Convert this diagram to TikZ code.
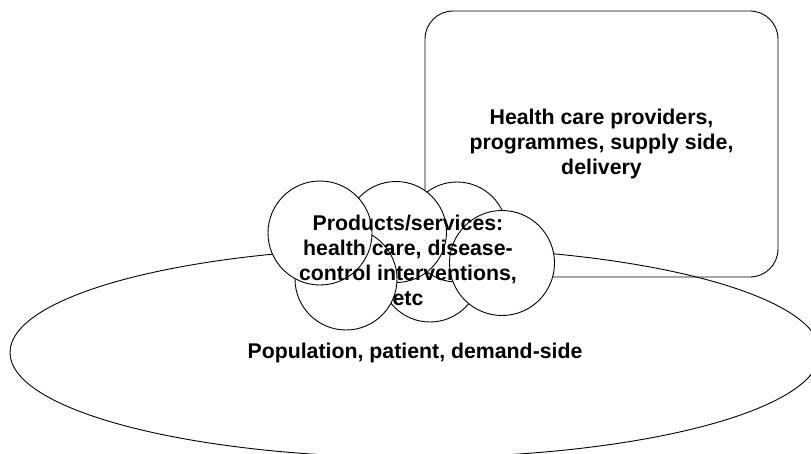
\documentclass[tikz,border=0pt]{standalone}
\usepackage{fontspec}
\setmainfont{Liberation Sans}
\usetikzlibrary{shapes.geometric}
\tikzset{
  lbl/.style={font=\bfseries\fontsize{21.3}{25}\selectfont, align=center, text=black},
  blob/.style={circle, draw=black, fill=white, line width=0.9pt, inner sep=0pt},
  outline/.style={draw=black, line width=0.9pt}
}
\begin{document}
\begin{tikzpicture}[x=1pt,y=-1pt]
\useasboundingbox (0,0) rectangle (811,453);
\clip (0,0) rectangle (811,453);
\fill[white] (0,0) rectangle (811,453);
% population ellipse
\node[outline, ellipse, minimum width=810pt, minimum height=210pt, inner sep=0pt, lbl] (pop) at (415,352.5) {Population, patient, demand-side};
% providers box
\node[outline, rounded corners=28pt, minimum width=353pt, minimum height=266pt, inner sep=0pt, lbl] (prov) at (601.5,144) {Health care providers,\\programmes, supply side,\\delivery};
% cloud of circles
\node[blob, minimum size=100pt] (c6) at (430,272) {};
\node[blob, minimum size=100pt] (c3) at (457,232) {};
\node[blob, minimum size=105pt] (c4) at (502,263) {};
\node[blob, minimum size=101pt] (c2) at (396,232) {};
\node[blob, minimum size=102pt] (c5) at (346,279) {};
\node[blob, minimum size=104pt] (c1) at (320,233) {};
\node[lbl, inner sep=0pt] (prod) at (408,260) {Products/services:\\health care, disease-\\control interventions,\\etc};
\end{tikzpicture}
\end{document}
